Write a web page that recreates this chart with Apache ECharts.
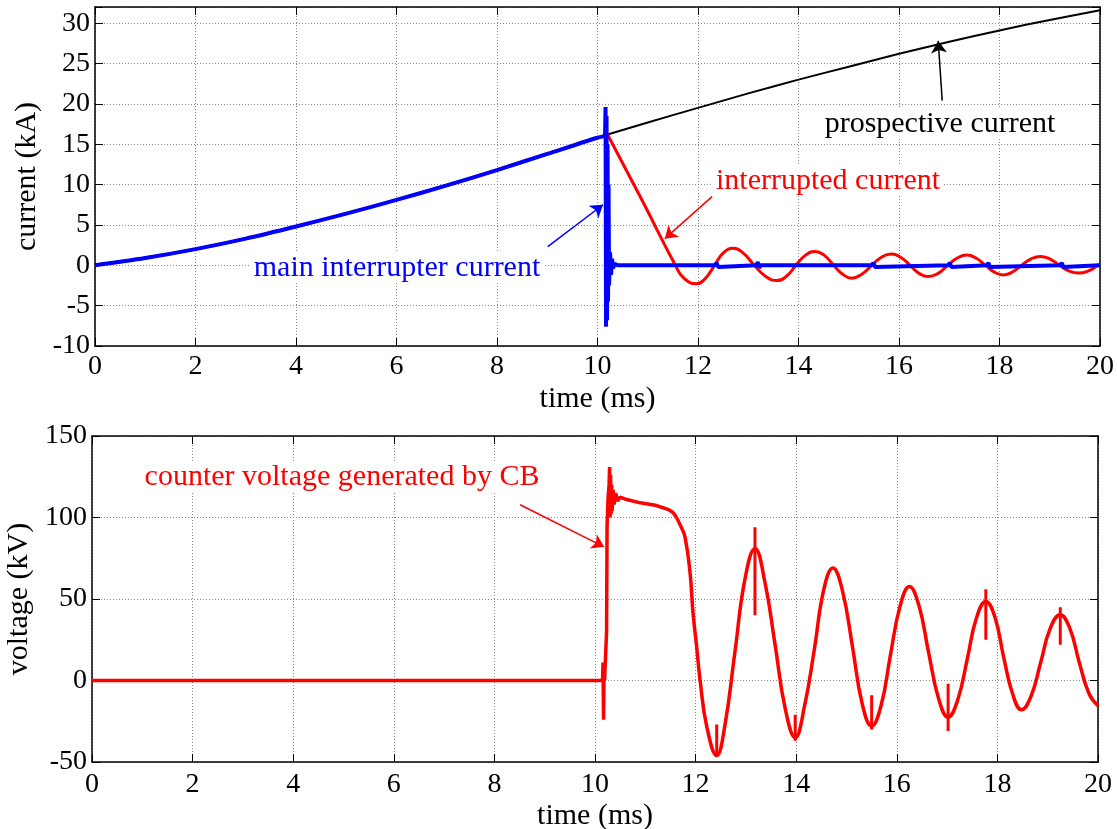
<!DOCTYPE html>
<html>
<head>
<meta charset="utf-8">
<script src="https://cdn.jsdelivr.net/npm/echarts@6/dist/echarts.min.js"></script>
<style>
html, body { margin: 0; background: #fff; }
#chart { width: 1117px; height: 829px; }
</style>
</head>
<body>
<div id="chart"></div>
<script>
var FONT = '"Liberation Serif", "Times New Roman", serif';

// ---- top panel: currents (kA) vs time (ms) ----
// common rise before the interruption
var rampT = [0, 1, 2, 3, 4, 5, 6, 7, 8, 9, 10, 10.2];
var rampI = [0, 0.9, 2.0, 3.3, 4.8, 6.4, 8.1, 9.9, 11.8, 13.8, 15.8, 16.2];

// prospective current after 10.2 ms
var prospectiveT = [11, 12, 13, 14, 15, 16, 17, 18, 19, 20];
var prospectiveI = [17.7, 19.5, 21.3, 23.0, 24.6, 26.2, 27.7, 29.1, 30.4, 31.6];

// interrupted current after 10.2 ms
var interruptT = [10.2, 10.9, 11.55, 11.72, 11.97, 12.15, 12.33, 12.5, 12.70, 12.9, 13.12,
  13.35, 13.57, 13.77, 13.95, 14.13, 14.33, 14.52, 14.70, 14.88, 15.06, 15.26, 15.46,
  15.65, 15.85, 16.03, 16.22, 16.40, 16.58, 16.78, 16.97, 17.16, 17.35, 17.53, 17.72,
  17.90, 18.07, 18.25, 18.44, 18.63, 18.81, 19.00, 19.19, 19.38, 19.57, 19.77, 19.96, 20];
var interruptI = [16.2, 7.9, 0, -1.6, -2.3, -1.6, 0, 1.5, 2.1, 1.5, 0,
  -1.4, -1.9, -1.3, 0, 1.2, 1.7, 1.2, 0, -1.1, -1.6, -1.1, 0,
  1.0, 1.4, 1.0, 0, -1.0, -1.4, -1.0, 0, 0.9, 1.26, 0.9, 0,
  -0.85, -1.2, -0.85, 0, 0.8, 1.1, 0.8, 0, -0.7, -0.97, -0.7, 0, 0.1];

// main interrupter current after 10.15 ms (spike, then ~0 with small blips)
var mainT = [10.15, 10.16, 10.17, 10.18, 10.19, 10.20, 10.21, 10.22, 10.23, 10.25, 10.27, 10.29, 10.31, 10.34, 10.40,
  12.34, 12.37, 12.40, 12.43, 13.16, 13.19, 13.22, 13.25, 15.46, 15.49, 15.52, 15.55,
  16.98, 17.01, 17.04, 17.07, 17.75, 17.78, 17.81, 17.84, 19.21, 19.24, 19.27, 19.30, 20];
var mainI = [16.0, 19.6, -7.6, 18.5, -6.8, 15, -4.5, 10, -2.5, 1.6, -1.2, 0.8, -0.4, 0.2, 0,
  0, 0.3, -0.2, 0, 0, 0.4, -0.3, 0, 0, 0.3, -0.2, 0,
  0, 0.3, -0.2, 0, 0, 0.3, -0.2, 0, 0, 0.3, -0.2, 0, 0];

// ---- bottom panel: voltage (kV) vs time (ms) ----
var voltPreT = [0, 10.15, 10.16, 10.17, 10.18, 10.19, 10.22, 10.23, 10.24, 10.26, 10.28,
  10.29, 10.30, 10.31, 10.32, 10.33, 10.34, 10.36, 10.38, 10.41, 10.45,
  10.50, 10.63, 10.90, 11.20, 11.45, 11.53, 11.58, 11.62];
var voltPreV = [0, 0, 11, -24, 8, 0, 0, 30, 95, 112, 120,
  131, 100, 126, 102, 120, 104, 117, 108, 115, 110,
  112.5, 111, 109, 107.5, 105, 103.5, 102, 100];

var voltOscT = [11.62, 11.70, 11.79, 11.89, 11.95, 12.02, 12.09, 12.22, 12.42, 12.58,
  12.78, 12.98, 13.18, 13.38, 13.58, 13.78, 13.98, 14.17, 14.36, 14.55,
  14.73, 14.92, 15.12, 15.31, 15.50, 15.69, 15.87, 16.06, 16.25, 16.44,
  16.63, 16.83, 17.02, 17.21, 17.40, 17.58, 17.77, 17.95, 18.12, 18.30,
  18.48, 18.67, 18.86, 19.05, 19.25, 19.44, 19.62, 19.82, 20];
var voltOscV = [100, 95, 88, 66, 41, 21, 0, -28, -46, -28,
  17, 62, 81, 60, 22, -17, -35, -15, 19, 56,
  69, 55, 20.5, -14, -28, -15, 15, 45, 57.7, 46,
  17.6, -11, -22.5, -12, 13, 38, 48.5, 39, 15, -8,
  -18, -9.5, 11, 32, 40.3, 32, 12, -8, -15.5];

// short switching spikes on the voltage
var spikeT = [12.42, 13.18, 13.98, 15.50, 17.02, 17.77, 19.25];
var spikeHi = [-27, 94, -21, -9, -2, 56, 45];
var spikeLo = [-47, 40, -37, -30, -31, 25, 22];

var xTicks = { min: 0, max: 20, interval: 2 };
var curTicks = { min: -10, max: 32, interval: 5 };
var voltTicks = { min: -50, max: 150, interval: 50 };

function pairs(t, v) {
  return t.map(function (x, i) { return [x, v[i]]; });
}

function spikes(t, hi, lo) {
  var out = [];
  t.forEach(function (x, i) { out.push([x, hi[i]], [x, lo[i]], [x, null]); });
  return out;
}

var gridLine = { show: true, lineStyle: { color: '#888', width: 1, type: [1, 2] } };
var blackLine = { show: true, onZero: false, lineStyle: { color: '#000', width: 1.5 } };
var inTick = { show: true, inside: true, length: 8, lineStyle: { color: '#000', width: 1 } };
var labelStyle = { fontFamily: FONT, fontSize: 28, color: '#000' };
var nameStyle = { fontFamily: FONT, fontSize: 30, color: '#000' };

function mainX(grid, gap, margin) {
  return {
    type: 'value', gridIndex: grid, position: 'bottom',
    min: xTicks.min, max: xTicks.max, interval: xTicks.interval,
    name: 'time (ms)', nameLocation: 'middle', nameGap: gap, nameTextStyle: nameStyle,
    axisLine: blackLine, axisTick: inTick,
    axisLabel: Object.assign({ margin: margin }, labelStyle),
    splitLine: gridLine
  };
}
function mirrorX(grid) {
  return {
    type: 'value', gridIndex: grid, position: 'top',
    min: xTicks.min, max: xTicks.max, interval: xTicks.interval,
    axisLine: blackLine, axisTick: inTick, axisLabel: { show: false }, splitLine: { show: false }
  };
}
function mainY(grid, ticks, name, gap) {
  return {
    type: 'value', gridIndex: grid, position: 'left',
    min: ticks.min, max: ticks.max, interval: ticks.interval,
    name: name, nameLocation: 'middle', nameGap: gap, nameTextStyle: nameStyle,
    axisLine: blackLine, axisTick: inTick,
    axisLabel: Object.assign({
      margin: 5,
      formatter: function (v) { return v > ticks.max - ticks.interval / 2 && v % ticks.interval ? '' : v; }
    }, labelStyle),
    splitLine: gridLine
  };
}
function mirrorY(grid, ticks) {
  return {
    type: 'value', gridIndex: grid, position: 'right',
    min: ticks.min, max: ticks.max, interval: ticks.interval,
    axisLine: blackLine, axisTick: inTick, axisLabel: { show: false }, splitLine: { show: false }
  };
}

function line(name, xi, yi, data, color, width, smooth) {
  return {
    name: name, type: 'line', xAxisIndex: xi, yAxisIndex: yi,
    data: data, smooth: smooth || false, showSymbol: false, symbol: 'none',
    connectNulls: false, animation: false, silent: true,
    lineStyle: { color: color, width: width }
  };
}

function arrow(from, to, color) {
  return {
    silent: true, animation: false,
    symbol: ['none', 'arrow'], symbolSize: 12,
    label: { show: false },
    lineStyle: { color: color, width: 1.5, type: 'solid' },
    data: [[{ coord: from }, { coord: to }]]
  };
}

function note(text, x, y, color) {
  return {
    type: 'text', x: x, y: y, z: 50,
    style: {
      text: text, fill: color, font: '30px ' + FONT,
      align: 'center', verticalAlign: 'middle',
      backgroundColor: '#fff', padding: [0, 3]
    }
  };
}

var black = line('prospective current', 0, 0, pairs(rampT.concat(prospectiveT), rampI.concat(prospectiveI)), '#000', 2, 0.3);
black.markLine = arrow([16.86, 20.4], [16.78, 27.8], '#000');

var redPre = line('interrupted current', 0, 0, pairs(rampT, rampI), '#ff0000', 3, 0.3);
var redPost = line('interrupted current', 0, 0, pairs(interruptT, interruptI), '#ff0000', 3, 0.5);
redPost.markLine = arrow([12.28, 8.5], [11.34, 3.3], '#ff0000');

var bluePre = line('main interrupter current', 0, 0,
  pairs(rampT.slice(0, 11).concat([10.15]), rampI.slice(0, 11).concat([16.0])), '#0000ff', 4, 0.3);
var bluePost = line('main interrupter current', 0, 0, pairs(mainT, mainI), '#0000ff', 4, false);
bluePost.markLine = arrow([9.01, 2.3], [10.11, 7.5], '#0000ff');

var voltPre = line('voltage', 2, 2, pairs(voltPreT, voltPreV), '#ff0000', 3.5, false);
voltPre.markLine = arrow([8.51, 107.8], [10.18, 82], '#ff0000');
var voltOsc = line('voltage', 2, 2, pairs(voltOscT, voltOscV), '#ff0000', 3.5, 0.45);
var voltSpk = line('voltage', 2, 2, spikes(spikeT, spikeHi, spikeLo), '#ff0000', 3, false);

var chart = echarts.init(document.getElementById('chart'));
chart.setOption({
  backgroundColor: '#fff',
  animation: false,
  grid: [
    { left: 95, top: 7, width: 1005, height: 339, outerBoundsMode: 'none', containLabel: false },
    { left: 92, top: 436, width: 1006, height: 326, outerBoundsMode: 'none', containLabel: false }
  ],
  xAxis: [mainX(0, 38, 7), mirrorX(0), mainX(1, 39, 9), mirrorX(1)],
  yAxis: [
    mainY(0, curTicks, 'current (kA)', 48), mirrorY(0, curTicks),
    mainY(1, voltTicks, 'voltage (kV)', 54), mirrorY(1, voltTicks)
  ],
  series: [black, redPre, redPost, bluePre, bluePost, voltPre, voltOsc, voltSpk],
  graphic: [
    note('prospective current', 940, 124, '#000'),
    note('interrupted current', 828, 181, '#ff0000'),
    note('main interrupter current', 397, 268, '#0000ff'),
    note('counter voltage generated by CB', 342, 477, '#ff0000')
  ]
});
</script>
</body>
</html>
